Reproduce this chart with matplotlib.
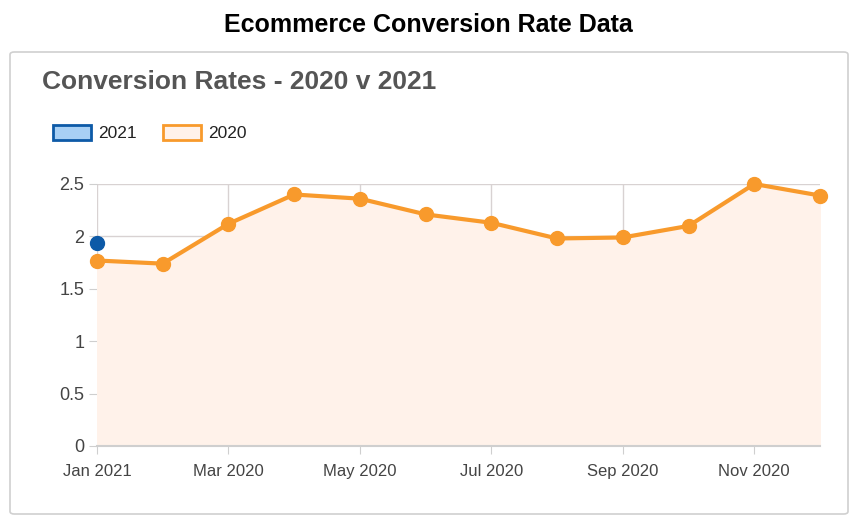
import matplotlib.pyplot as plt
from matplotlib.patches import FancyBboxPatch, Patch

# monthly conversion rates (%)
months = list(range(12))
rate_2020 = [1.77, 1.74, 2.12, 2.40, 2.36, 2.21, 2.13, 1.98, 1.99, 2.10, 2.50, 2.39]
months_2021 = [0]
rate_2021 = [1.94]
tick_pos = [0, 2, 4, 6, 8, 10]
tick_labels = ['Jan 2021', 'Mar 2020', 'May 2020', 'Jul 2020', 'Sep 2020', 'Nov 2020']
y_ticks = [0, 0.5, 1, 1.5, 2, 2.5]
y_labels = ['0', '0.5', '1', '1.5', '2', '2.5']

orange = '#f89a2c'
blue = '#0d5aa7'
sans = ['Liberation Sans', 'DejaVu Sans']

fig = plt.figure(figsize=(8.56, 5.22), dpi=100)
fig.patch.set_facecolor('white')

# card behind the chart
card = FancyBboxPatch((10 / 856, 1 - 514 / 522), 838 / 856, 462 / 522,
                      boxstyle='round,pad=0,rounding_size=0.005',
                      transform=fig.transFigure, facecolor='white',
                      edgecolor='#d0d0d0', linewidth=1.2, zorder=-5)
fig.patches.append(card)

fig.text(0.5, 1 - 25 / 522, 'Ecommerce Conversion Rate Data', ha='center', va='center',
         fontsize=18, fontweight='bold', family=sans)
fig.text(42 / 856, 1 - 82 / 522, 'Conversion Rates - 2020 v 2021', ha='left', va='center',
         fontsize=19, fontweight='bold', color='#555555', family=sans)

ax = fig.add_axes([97 / 856, 1 - 446 / 522, 723 / 856, 262 / 522])
ax.set_facecolor('none')

ax.fill_between(months, rate_2020, 0, color='#fff2ea', zorder=1)
ax.plot(months, rate_2020, color=orange, linewidth=3, marker='o', markersize=10,
        zorder=3, clip_on=False)
ax.plot(months_2021, rate_2021, color=blue, linestyle='none', marker='o', markersize=10,
        zorder=4, clip_on=False)

ax.set_xlim(0, 11)
ax.set_ylim(0, 2.5)
ax.set_xticks(tick_pos)
ax.set_xticklabels(tick_labels, family=sans, fontsize=12, color='#444444')
ax.set_yticks(y_ticks)
ax.set_yticklabels(y_labels, family=sans, fontsize=13, color='#444444')

ax.grid(True, color='#d8d2d2', linewidth=1, zorder=0)
ax.set_axisbelow(True)
for side in ['top', 'right', 'left']:
    ax.spines[side].set_visible(False)
ax.spines['bottom'].set_color('#cfcfcf')
ax.spines['bottom'].set_linewidth(1.5)
ax.tick_params(axis='x', length=6, color='#cfcfcf', pad=7)
ax.tick_params(axis='y', length=6, color='#cfcfcf', pad=3)

handles = [Patch(facecolor='#a8d0f5', edgecolor=blue, linewidth=2, label='2021'),
           Patch(facecolor='#fff2ea', edgecolor=orange, linewidth=2, label='2020')]
fig.legend(handles=handles, loc='upper left', bbox_to_anchor=(46 / 856, 1 - 118 / 522),
           ncol=2, frameon=False, handlelength=2.2, handleheight=0.95,
           handletextpad=0.4, columnspacing=1.5, borderaxespad=0,
           prop={'family': sans, 'size': 12.5}, labelcolor='#222222')

fig.savefig('out.png', dpi=100)
